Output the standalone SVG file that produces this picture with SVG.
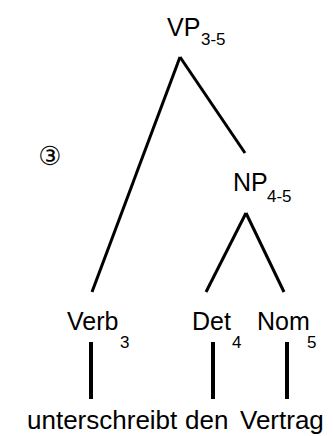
<svg xmlns="http://www.w3.org/2000/svg" width="333" height="436" viewBox="0 0 333 436">
<style>
.t{font-family:"Liberation Sans",Arial,sans-serif;font-size:25px;fill:#000}
.w{font-family:"Liberation Sans",Arial,sans-serif;font-size:26px;fill:#000}
.s{font-family:"Liberation Sans",Arial,sans-serif;font-size:17px;fill:#000}
.e{stroke:#000;stroke-width:3;fill:none;stroke-linecap:butt}
.v{stroke:#000;stroke-width:4;fill:none}
</style>
<rect width="333" height="436" fill="#fff"/>
<g id="connectors">
<line class="e" x1="180" y1="57" x2="92" y2="292"/>
<line class="e" x1="180" y1="57" x2="245" y2="153"/>
<line class="e" x1="246" y1="213" x2="206" y2="292"/>
<line class="e" x1="246" y1="213" x2="284" y2="292"/>
<line class="v" x1="91" y1="342" x2="91" y2="399"/>
<line class="v" x1="213" y1="342" x2="213" y2="399"/>
<line class="v" x1="287" y1="342" x2="287" y2="399"/>
</g>
<g id="vp"><text class="t" x="167" y="36">VP</text><text class="s" x="201" y="45">3-5</text></g>
<g id="np"><text class="t" x="233" y="191">NP</text><text class="s" x="267" y="202">4-5</text></g>
<g id="verb"><text class="t" x="67" y="330">Verb</text><text class="s" x="120" y="348">3</text></g>
<g id="det"><text class="t" x="192" y="330">Det</text><text class="s" x="232" y="348">4</text></g>
<g id="nom"><text class="t" x="257" y="330">Nom</text><text class="s" x="307" y="348">5</text></g>
<g id="w1"><text class="w" x="27" y="429">unterschreibt</text></g>
<g id="w2"><text class="w" x="185" y="429">den</text></g>
<g id="w3"><text class="w" x="240" y="429">Vertrag</text></g>
<g id="mark"><text x="50" y="165" text-anchor="middle" style="font-family:'DejaVu Sans','Noto Sans CJK JP',sans-serif;font-size:26px;fill:#000">③</text></g>
</svg>
